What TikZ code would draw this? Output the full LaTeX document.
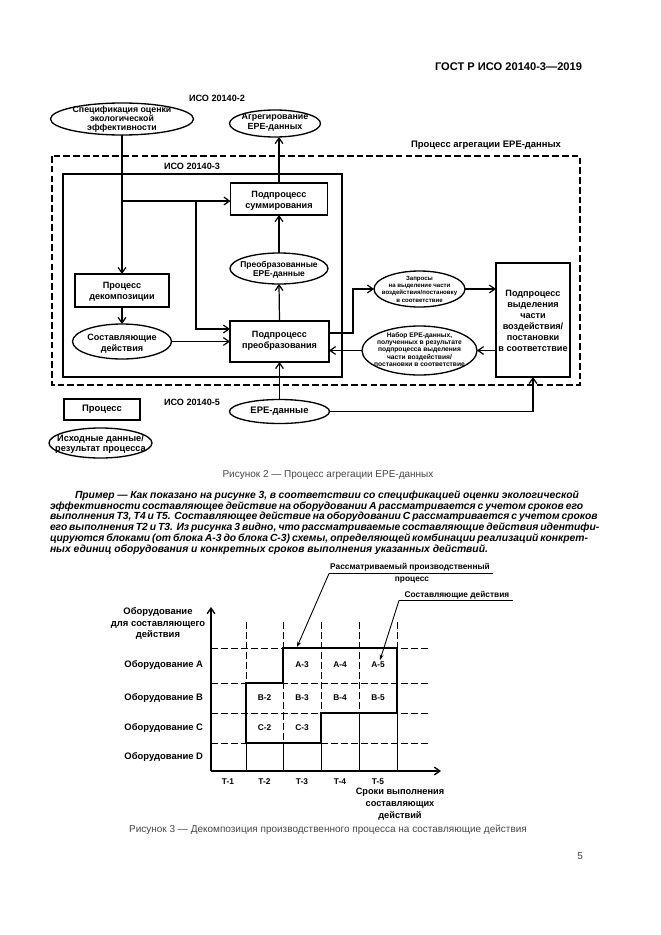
\documentclass[tikz,border=0pt]{standalone}
\usepackage{fontspec}
\setmainfont{Liberation Sans}
\usetikzlibrary{shapes.geometric,arrows.meta}
\definecolor{capgray}{gray}{0.28}
\begin{document}
\begin{tikzpicture}[x=0.9pt,y=-0.9pt,
  every node/.style={inner sep=0pt,outer sep=0pt},
  t75/.style={font=\fontsize{7.5}{9.9}\selectfont\bfseries,align=center},
  t82/.style={font=\fontsize{8.2}{9.9}\selectfont\bfseries,align=center},
  t85/.style={font=\fontsize{8.5}{10.4}\selectfont\bfseries,align=center},
  t55/.style={font=\fontsize{5.5}{6.6}\selectfont\bfseries,align=center},
  shp/.style={draw,line width=1.2pt},
  elp/.style={draw,ellipse,line width=1.2pt},
  ln/.style={line width=1.1pt},
  arr/.style={ln,-{Straight Barb[length=5pt,width=7pt]}},
  dsh/.style={line width=1.3pt,dash pattern=on 6pt off 2.8pt},
  gdash/.style={line width=0.9pt,dash pattern=on 6pt off 3pt},
  gsol/.style={line width=0.9pt},
  thk/.style={line width=2.4pt,line join=miter},
  lead/.style={line width=0.8pt,-{Stealth[length=5pt,width=3.5pt]}},
  captxt/.style={font=\fontsize{9}{11}\selectfont,text=capgray},
  partxt/.style={font=\fontsize{9.3}{11}\selectfont\bfseries\itshape,anchor=base west},
]
\useasboundingbox (0,0) rectangle (661,935);
\fill[white] (0,0) rectangle (661,935);

% header
\node[font=\fontsize{10}{12}\selectfont\bfseries,anchor=east] (hdr) at (582,67) {ГОСТ Р ИСО 20140-3—2019};

% ---------- Figure 2 ----------
\draw[dsh] (52,156) rectangle (580,385);
\draw[line width=1.9pt] (63,174) rectangle (342,377);

\node[t82] (iso2) at (217,98) {ИСО 20140-2};
\node[t82] (iso3) at (192,166) {ИСО 20140-3};
\node[t82] (iso5) at (192,402) {ИСО 20140-5};
\node[t85] (agrproc) at (486,145) {Процесс агрегации EPE-данных};

\node[elp,minimum width=128.7pt,minimum height=28.8pt] (spec) at (122,119) {};
\node[t82,font=\fontsize{7.9}{7.9}\selectfont\bfseries] (spec-t) at (122,119) {Спецификация оценки\\экологической\\эффективности};

\node[elp,minimum width=81.9pt,minimum height=24.3pt] (agr) at (275,123.5) {};
\node[t82,font=\fontsize{8}{9}\selectfont\bfseries] (agr-t) at (275,122.5) {Агрегирование\\EPE-данных};

\node[shp,minimum width=87.3pt,minimum height=28.8pt] (summ) at (279,199) {};
\node[t82] (summ-t) at (279,200.5) {Подпроцесс\\суммирования};

\node[elp,minimum width=88.2pt,minimum height=27.9pt] (preE) at (279,268.5) {};
\node[t82,font=\fontsize{7.6}{8.2}\selectfont\bfseries] (preE-t) at (279,270) {Преобразованные\\EPE-данные};

\node[shp,minimum width=84.6pt,minimum height=29.7pt] (decomp) at (122,290.5) {};
\node[t82] (decomp-t) at (122,291.5) {Процесс\\декомпозиции};

\node[elp,minimum width=89.1pt,minimum height=31.5pt] (sost) at (122,341.5) {};
\node[t82] (sost-t) at (122,344) {Составляющие\\действия};

\node[shp,minimum width=89.1pt,minimum height=36.9pt] (preobr) at (279.5,341.5) {};
\node[t82] (preobr-t) at (279.5,341) {Подпроцесс\\преобразования};

\node[elp,minimum width=81.9pt,minimum height=32.4pt] (zapr) at (419.5,289) {};
\node[t55] (zapr-t) at (419.5,289) {Запросы\\на выделение части\\воздействия/постановку\\в соответствие};

\node[shp,minimum width=66.6pt,minimum height=102.6pt] (big) at (533,320) {};
\node[t82] (big-t) at (533,320.5) {Подпроцесс\\выделения\\части\\воздействия/\\постановки\\в соответствие};

\node[elp,minimum width=103.5pt,minimum height=44.1pt] (nabor) at (419.5,350.5) {};
\node[t55,font=\fontsize{6}{6.4}\selectfont\bfseries] (nabor-t) at (419.5,349.5) {Набор EPE-данных,\\полученных в результате\\подпроцесса выделения\\части воздействия/\\постановки в соответствие};

\node[elp,minimum width=90pt,minimum height=21.6pt] (epe) at (279.5,411.5) {};
\node[t85] (epe-t) at (279.5,411.5) {EPE-данные};

% legend
\node[shp,minimum width=68.4pt,minimum height=18.9pt] (legp) at (102,409.5) {};
\node[t85] (legp-t) at (102,409.5) {Процесс};
\node[elp,minimum width=92.7pt,minimum height=27pt] (lege) at (100.5,443) {};
\node[t85,font=\fontsize{8.3}{9}\selectfont\bfseries] (lege-t) at (100.5,444) {Исходные данные/\\результат процесса};

% connectors
\coordinate (j1) at (122,201);
\coordinate (j2) at (196,201);
\coordinate (j3) at (196,329);
\coordinate (k1) at (353,333);
\draw[arr] (spec.south) -- (decomp.north);
\draw[arr] (j1) -- (j1 -| summ.west);
\draw[arr] (j2) -- (j3) -- (j3 -| preobr.west);
\draw[arr] (decomp.south) -- (sost.north);
\draw[arr] (sost.east) -- (sost.east -| preobr.west);
\draw[arr] (preobr.north) -- (preE.south);
\draw[arr] (preE.north) -- (summ.south);
\draw[arr] (summ.north) -- (summ.north |- agr.south);
\draw[arr] (preobr.east |- k1) -- (k1) |- (zapr.west);
\draw[arr] (zapr.east) -- (zapr.east -| big.west);
\draw[arr] (big.west |- nabor.east) -- (nabor.east);
\draw[arr] (nabor.west) -- (nabor.west -| preobr.east);
\draw[arr] (epe.north) -- (preobr.south);
\draw[arr] (epe.east) -| (big.south);

\node[captxt] (cap2) at (328,475) {Рисунок 2 — Процесс агрегации EPE-данных};

% ---------- paragraph ----------
\node[partxt] (p1) at (75,498.5) {\hbox to 453.6pt{Пример — Как показано на рисунке 3, в соответствии со спецификацией оценки экологической}};
\node[partxt] (p2) at (50,509.2) {\hbox to 476.1pt{эффективности составляющее действие на оборудовании A рассматривается с учетом сроков его}};
\node[partxt] (p3) at (50,519.9) {\hbox to 476.1pt{выполнения T3, T4 и T5. Составляющее действие на оборудовании C рассматривается с учетом сроков}};
\node[partxt] (p4) at (50,530.6) {\hbox to 476.1pt{его выполнения T2 и T3. Из рисунка 3 видно, что рассматриваемые составляющие действия идентифи-}};
\node[partxt] (p5) at (50,541.3) {\hbox to 476.1pt{цируются блоками (от блока A-3 до блока C-3) схемы, определяющей комбинации реализаций конкрет-}};
\node[partxt] (p6) at (50,552) {ных единиц оборудования и конкретных сроков выполнения указанных действий.};

% ---------- Figure 3 ----------
\foreach \yy in {648,683,713,743} \draw[gdash] (211,\yy) -- (430,\yy);
\foreach \xx in {246,283,321,359,397} \draw[gdash] (\xx,622) -- (\xx,713);
\foreach \xx in {246,321,359,397} \draw[gsol] (\xx,713) -- (\xx,771);
\draw[gdash] (283,713) -- (283,743);
\draw[gsol] (283,743) -- (283,771);
\draw[thk] (283,648) -- (397,648) -- (397,713) -- (321,713) -- (321,743) -- (246,743) -- (246,683) -- (283,683) -- cycle;

\coordinate (origin) at (211,771);
\coordinate (ytop) at (211,607);
\coordinate (xend) at (441,771);
\draw[line width=1.2pt,-{Straight Barb[length=5pt,width=7pt]}] (origin) -- (ytop);
\draw[line width=1.2pt,-{Straight Barb[length=5pt,width=7pt]}] (origin) -- (xend);

\node[t85] (yl) at (158,623.5) {Оборудование\\для составляющего\\действия};
\node[t85,anchor=east] (rA) at (203,665) {Оборудование A};
\node[t85,anchor=east] (rB) at (203,698) {Оборудование B};
\node[t85,anchor=east] (rC) at (203,728) {Оборудование C};
\node[t85,anchor=east] (rD) at (203,757) {Оборудование D};

\node[t75] (T1) at (228,782) {T-1};
\node[t75] (T2) at (264.5,782) {T-2};
\node[t75] (T3) at (302,782) {T-3};
\node[t75] (T4) at (340,782) {T-4};
\node[t75] (T5) at (378,782) {T-5};
\node[t85,font=\fontsize{8.3}{10.6}\selectfont\bfseries] (srok) at (400,804) {Сроки выполнения\\составляющих\\действий};

\node[t75] (cA3) at (302,665) {A-3};
\node[t75] (cA4) at (340,665) {A-4};
\node[t75] (cA5) at (378,665) {A-5};
\node[t75] (cB2) at (264.5,698) {B-2};
\node[t75] (cB3) at (302,698) {B-3};
\node[t75] (cB4) at (340,698) {B-4};
\node[t75] (cB5) at (378,698) {B-5};
\node[t75] (cC2) at (264.5,728) {C-2};
\node[t75] (cC3) at (302,728) {C-3};

% annotations
\node[t75] (an1a) at (410,567.5) {Рассматриваемый производственный};
\node[t75] (an1b) at (412,580) {процесс};
\coordinate (u1r) at (493,573.5);
\coordinate (u1l) at (329,573.5);
\coordinate (tip1) at (297,647);
\draw[line width=0.8pt] (u1r) -- (u1l);
\draw[lead] (u1l) -- (tip1);

\node[t75] (an2) at (457,595) {Составляющие действия};
\coordinate (u2r) at (513,600.5);
\coordinate (u2l) at (399,600.5);
\coordinate (tip2) at (380,660);
\draw[line width=0.8pt] (u2r) -- (u2l);
\draw[lead] (u2l) -- (tip2);

\node[captxt] (cap3) at (328,830) {Рисунок 3 — Декомпозиция производственного процесса на составляющие действия};
\node[captxt,anchor=east] (pgn) at (583,856) {5};
\end{tikzpicture}
\end{document}
